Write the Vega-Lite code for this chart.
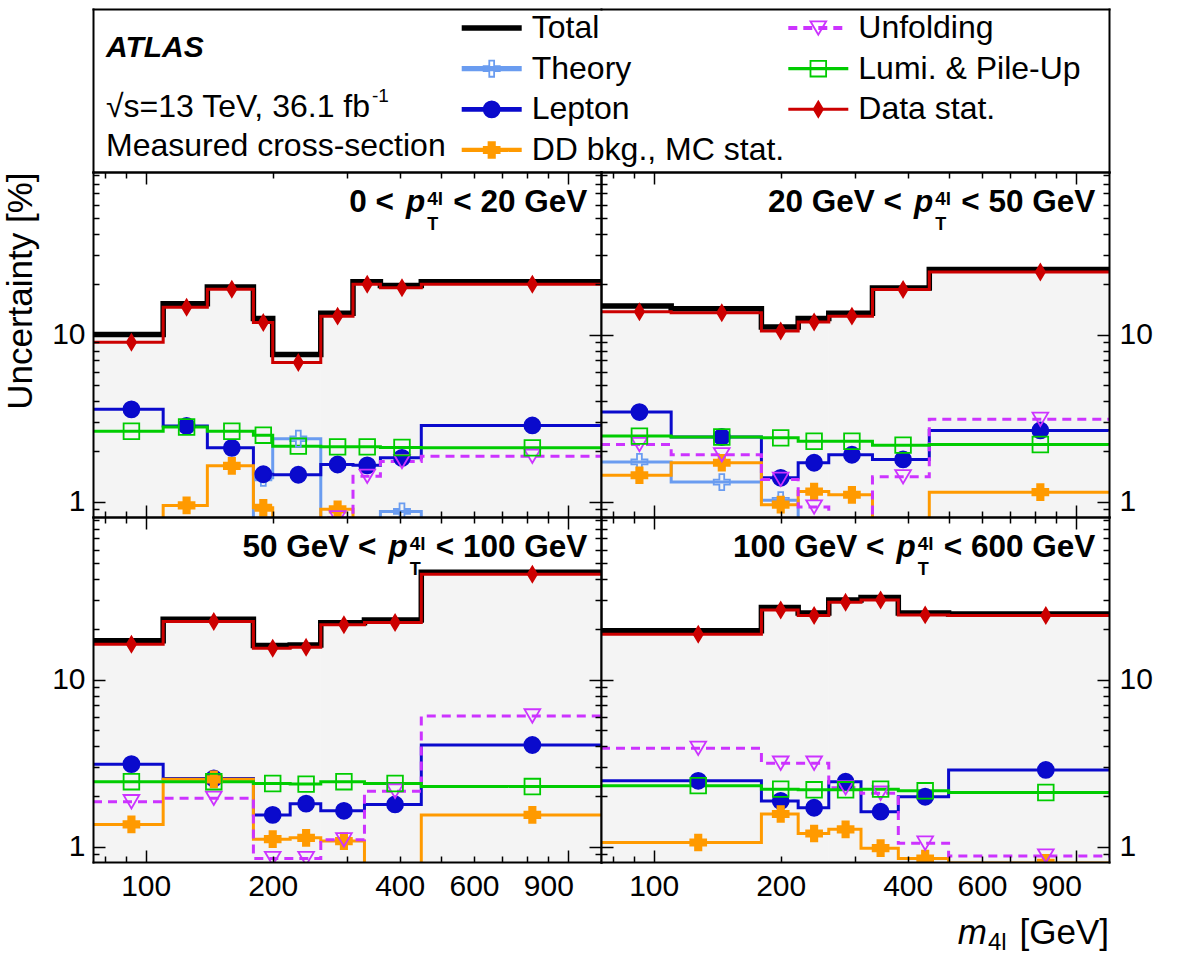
{
  "$schema": "https://vega.github.io/schema/vega-lite/v6.json",
  "background": "white",
  "padding": {"left": 3, "top": 9, "right": 5, "bottom": 5},
  "config": {"font": "Liberation Sans", "view": {"stroke": null}, "text": {"color": "#000"}},
  "datasets": {
    "unc": [
      {"pt": "0-20", "bin": 1, "lo": 75, "hi": 110, "mid": 92.5, "Total": 10.0, "Stat": 9.0, "Lepton": 3.57, "Lumi": 2.64, "Theory": 0.6, "DD": 0.6, "Unfolding": 0.6},
      {"pt": "0-20", "bin": 2, "lo": 110, "hi": 140, "mid": 125, "Total": 15.3, "Stat": 14.6, "Lepton": 2.84, "Lumi": 2.8, "Theory": 0.6, "DD": 0.95, "Unfolding": 0.6},
      {"pt": "0-20", "bin": 3, "lo": 140, "hi": 180, "mid": 160, "Total": 19.3, "Stat": 18.7, "Lepton": 2.1, "Lumi": 2.64, "Theory": 0.6, "DD": 1.64, "Unfolding": 0.6},
      {"pt": "0-20", "bin": 4, "lo": 180, "hi": 200, "mid": 190, "Total": 12.5, "Stat": 11.8, "Lepton": 1.46, "Lumi": 2.5, "Theory": 1.39, "DD": 0.92, "Unfolding": 0.6},
      {"pt": "0-20", "bin": 5, "lo": 200, "hi": 260, "mid": 230, "Total": 7.6, "Stat": 6.8, "Lepton": 1.45, "Lumi": 2.15, "Theory": 2.38, "DD": 0.6, "Unfolding": 0.6},
      {"pt": "0-20", "bin": 6, "lo": 260, "hi": 310, "mid": 285, "Total": 13.4, "Stat": 12.9, "Lepton": 1.67, "Lumi": 2.13, "Theory": 0.6, "DD": 0.9, "Unfolding": 0.8},
      {"pt": "0-20", "bin": 7, "lo": 310, "hi": 360, "mid": 335, "Total": 20.7, "Stat": 20.0, "Lepton": 1.65, "Lumi": 2.13, "Theory": 0.6, "DD": 0.6, "Unfolding": 1.42},
      {"pt": "0-20", "bin": 8, "lo": 360, "hi": 450, "mid": 405, "Total": 19.7, "Stat": 19.1, "Lepton": 1.83, "Lumi": 2.11, "Theory": 0.875, "DD": 0.6, "Unfolding": 1.74},
      {"pt": "0-20", "bin": 9, "lo": 450, "hi": 1200, "mid": 825, "Total": 20.7, "Stat": 20.0, "Lepton": 2.86, "Lumi": 2.1, "Theory": 0.6, "DD": 0.6, "Unfolding": 1.87},
      {"pt": "20-50", "bin": 1, "lo": 75, "hi": 110, "mid": 92.5, "Total": 14.85, "Stat": 13.7, "Lepton": 3.44, "Lumi": 2.47, "Theory": 1.73, "DD": 1.44, "Unfolding": 2.2},
      {"pt": "20-50", "bin": 2, "lo": 110, "hi": 180, "mid": 145, "Total": 14.3, "Stat": 13.5, "Lepton": 2.44, "Lumi": 2.44, "Theory": 1.31, "DD": 1.71, "Unfolding": 1.91},
      {"pt": "20-50", "bin": 3, "lo": 180, "hi": 220, "mid": 200, "Total": 11.1, "Stat": 10.5, "Lepton": 1.39, "Lumi": 2.41, "Theory": 1.02, "DD": 0.96, "Unfolding": 1.36},
      {"pt": "20-50", "bin": 4, "lo": 220, "hi": 260, "mid": 240, "Total": 12.5, "Stat": 11.9, "Lepton": 1.71, "Lumi": 2.3, "Theory": 0.6, "DD": 1.15, "Unfolding": 0.93},
      {"pt": "20-50", "bin": 5, "lo": 260, "hi": 330, "mid": 295, "Total": 13.4, "Stat": 12.9, "Lepton": 1.91, "Lumi": 2.3, "Theory": 0.6, "DD": 1.1, "Unfolding": 0.6},
      {"pt": "20-50", "bin": 6, "lo": 330, "hi": 450, "mid": 390, "Total": 19.0, "Stat": 18.6, "Lepton": 1.79, "Lumi": 2.18, "Theory": 0.6, "DD": 0.6, "Unfolding": 1.41},
      {"pt": "20-50", "bin": 7, "lo": 450, "hi": 1200, "mid": 825, "Total": 24.5, "Stat": 23.7, "Lepton": 2.67, "Lumi": 2.2, "Theory": 0.6, "DD": 1.14, "Unfolding": 3.11},
      {"pt": "50-100", "bin": 1, "lo": 75, "hi": 110, "mid": 92.5, "Total": 17.1, "Stat": 16.3, "Lepton": 3.12, "Lumi": 2.45, "Theory": 0.6, "DD": 1.36, "Unfolding": 1.86},
      {"pt": "50-100", "bin": 2, "lo": 110, "hi": 180, "mid": 145, "Total": 23.0, "Stat": 22.3, "Lepton": 2.56, "Lumi": 2.45, "Theory": 0.6, "DD": 2.53, "Unfolding": 1.95},
      {"pt": "50-100", "bin": 3, "lo": 180, "hi": 220, "mid": 200, "Total": 16.0, "Stat": 15.4, "Lepton": 1.55, "Lumi": 2.39, "Theory": 0.6, "DD": 1.11, "Unfolding": 0.85},
      {"pt": "50-100", "bin": 4, "lo": 220, "hi": 260, "mid": 240, "Total": 16.1, "Stat": 15.6, "Lepton": 1.81, "Lumi": 2.37, "Theory": 0.6, "DD": 1.13, "Unfolding": 0.85},
      {"pt": "50-100", "bin": 5, "lo": 260, "hi": 330, "mid": 295, "Total": 21.9, "Stat": 21.3, "Lepton": 1.64, "Lumi": 2.45, "Theory": 0.6, "DD": 1.08, "Unfolding": 1.1},
      {"pt": "50-100", "bin": 6, "lo": 330, "hi": 450, "mid": 390, "Total": 22.7, "Stat": 22.0, "Lepton": 1.79, "Lumi": 2.39, "Theory": 0.6, "DD": 0.6, "Unfolding": 2.15},
      {"pt": "50-100", "bin": 7, "lo": 450, "hi": 1200, "mid": 825, "Total": 43.9, "Stat": 42.7, "Lepton": 4.06, "Lumi": 2.29, "Theory": 0.6, "DD": 1.55, "Unfolding": 6.06},
      {"pt": "100-600", "bin": 1, "lo": 75, "hi": 180, "mid": 127.5, "Total": 19.6, "Stat": 18.7, "Lepton": 2.48, "Lumi": 2.32, "Theory": 0.6, "DD": 1.06, "Unfolding": 3.88},
      {"pt": "100-600", "bin": 2, "lo": 180, "hi": 220, "mid": 200, "Total": 27.0, "Stat": 26.1, "Lepton": 1.88, "Lumi": 2.21, "Theory": 0.6, "DD": 1.57, "Unfolding": 3.16},
      {"pt": "100-600", "bin": 3, "lo": 220, "hi": 260, "mid": 240, "Total": 25.0, "Stat": 24.2, "Lepton": 1.71, "Lumi": 2.19, "Theory": 0.6, "DD": 1.2, "Unfolding": 3.16},
      {"pt": "100-600", "bin": 4, "lo": 260, "hi": 310, "mid": 285, "Total": 30.0, "Stat": 29.0, "Lepton": 2.45, "Lumi": 2.19, "Theory": 0.6, "DD": 1.27, "Unfolding": 2.25},
      {"pt": "100-600", "bin": 5, "lo": 310, "hi": 380, "mid": 345, "Total": 31.0, "Stat": 30.0, "Lepton": 1.62, "Lumi": 2.21, "Theory": 0.6, "DD": 0.98, "Unfolding": 2.09},
      {"pt": "100-600", "bin": 6, "lo": 380, "hi": 500, "mid": 440, "Total": 25.0, "Stat": 24.4, "Lepton": 1.99, "Lumi": 2.16, "Theory": 0.6, "DD": 0.85, "Unfolding": 1.05},
      {"pt": "100-600", "bin": 7, "lo": 500, "hi": 1200, "mid": 850, "Total": 24.7, "Stat": 24.2, "Lepton": 2.88, "Lumi": 2.11, "Theory": 0.6, "DD": 0.8, "Unfolding": 0.88}
    ],
    "leg": [
      {"series": "Total", "label": "Total", "col": 0, "row": 0},
      {"series": "Theory", "label": "Theory", "col": 0, "row": 1},
      {"series": "Lepton", "label": "Lepton", "col": 0, "row": 2},
      {"series": "DD", "label": "DD bkg., MC stat.", "col": 0, "row": 3},
      {"series": "Unfolding", "label": "Unfolding", "col": 1, "row": 0},
      {"series": "Lumi", "label": "Lumi. & Pile-Up", "col": 1, "row": 1},
      {"series": "Stat", "label": "Data stat.", "col": 1, "row": 2}
    ],
    "heads": [
      {"pt": "0-20", "pre": "0 <", "post": "< 20 GeV"},
      {"pt": "20-50", "pre": "20 GeV <", "post": "< 50 GeV"},
      {"pt": "50-100", "pre": "50 GeV <", "post": "< 100 GeV"},
      {"pt": "100-600", "pre": "100 GeV <", "post": "< 600 GeV"}
    ]
  },
  "columns": 2,
  "bounds": "flush",
  "spacing": 0,
  "concat": [
    {
      "width": 508,
      "height": 163,
      "data": {"name": "leg"},
      "resolve": {"axis": {"x": "independent", "y": "independent"}},
      "layer": [
        {
          "transform": [{"filter": "datum.col == 0"}],
          "mark": {"type": "rule", "x2Offset": 60},
          "encoding": {
            "x": {"field": "col", "type": "quantitative", "scale": {"domain": [-0.7258, 0.2742], "nice": false, "zero": false}, "axis": {"orient": "top", "ticks": false, "labels": false, "grid": false, "title": null, "domainColor": "#000", "domainWidth": 2, "domainCap": "square"}},
            "x2": {"field": "col"},
            "y": {"field": "row", "type": "quantitative", "scale": {"domain": [-0.4672, 3.541], "reverse": true, "nice": false, "zero": false}, "axis": {"orient": "left", "ticks": false, "labels": false, "grid": false, "title": null, "domainColor": "#000", "domainWidth": 2, "domainCap": "square"}},
            "color": {"field": "series", "type": "nominal", "legend": null, "scale": {"domain": ["Total", "Theory", "Lepton", "DD", "Unfolding", "Lumi", "Stat"], "range": ["#000000", "#6a9cf0", "#0a0acc", "#ff9a00", "#cc33ff", "#00cc00", "#cc0000"]}},
            "strokeDash": {"field": "series", "type": "nominal", "legend": null, "scale": {"domain": ["Total", "Theory", "Lepton", "DD", "Unfolding", "Lumi", "Stat"], "range": [[1, 0], [1, 0], [1, 0], [1, 0], [9, 6], [1, 0], [1, 0]]}},
            "strokeWidth": {"field": "series", "type": "nominal", "legend": null, "scale": {"domain": ["Total", "Theory", "Lepton", "DD", "Unfolding", "Lumi", "Stat"], "range": [5.5, 3, 3, 3, 3, 3, 3]}}
          }
        },
        {
          "transform": [{"filter": "datum.col == 0 && datum.series != 'Total'"}],
          "mark": {"type": "point", "xOffset": 30, "strokeWidth": 1.8, "opacity": 1},
          "encoding": {
            "x": {"field": "col", "type": "quantitative", "scale": {"domain": [-0.7258, 0.2742], "nice": false, "zero": false}, "axis": {"orient": "bottom", "ticks": false, "labels": false, "grid": false, "title": null, "domainColor": "#000", "domainWidth": 2, "domainCap": "square"}},
            "y": {"field": "row", "type": "quantitative", "scale": {"domain": [-0.4672, 3.541], "reverse": true, "nice": false, "zero": false}, "axis": null},
            "shape": {"field": "series", "type": "nominal", "legend": null, "scale": {"domain": ["Theory", "Lepton", "DD", "Unfolding", "Lumi", "Stat"], "range": ["M-0.3,-1H0.3V-0.3H1V0.3H0.3V1H-0.3V0.3H-1V-0.3H-0.3Z", "circle", "cross", "M-1,-0.85H1L0,0.85Z", "square", "M0,-1L0.6,0L0,1L-0.6,0Z"]}},
            "size": {"field": "series", "type": "nominal", "legend": null, "scale": {"domain": ["Theory", "Lepton", "DD", "Unfolding", "Lumi", "Stat"], "range": [260, 240, 250, 270, 240, 280]}},
            "stroke": {"field": "series", "type": "nominal", "legend": null, "scale": {"domain": ["Theory", "Lepton", "DD", "Unfolding", "Lumi", "Stat"], "range": ["#6a9cf0", "#0a0acc", "#ff9a00", "#cc33ff", "#00cc00", "#cc0000"]}},
            "fill": {"field": "series", "type": "nominal", "legend": null, "scale": {"domain": ["Theory", "Lepton", "DD", "Unfolding", "Lumi", "Stat"], "range": ["transparent", "#0a0acc", "#ff9a00", "transparent", "transparent", "#cc0000"]}}
          }
        },
        {
          "transform": [{"filter": "datum.col == 0"}],
          "mark": {"type": "text", "align": "left", "baseline": "middle", "dx": 70, "fontSize": 32},
          "encoding": {
            "x": {"field": "col", "type": "quantitative", "scale": {"domain": [-0.7258, 0.2742], "nice": false, "zero": false}, "axis": null},
            "y": {"field": "row", "type": "quantitative", "scale": {"domain": [-0.4672, 3.541], "reverse": true, "nice": false, "zero": false}, "axis": null},
            "text": {"field": "label"}
          }
        },
        {
          "data": {"values": [{"t": "ATLAS"}]},
          "mark": {"type": "text", "align": "left", "baseline": "alphabetic", "fontSize": 30, "fontWeight": "bold", "fontStyle": "italic"},
          "encoding": {"text": {"field": "t"}, "x": {"value": 13}, "y": {"value": 48}}
        },
        {
          "data": {"values": [{"t": "√s=13 TeV, 36.1 fb"}]},
          "mark": {"type": "text", "align": "left", "baseline": "alphabetic", "fontSize": 32},
          "encoding": {"text": {"field": "t"}, "x": {"value": 13}, "y": {"value": 108}}
        },
        {
          "data": {"values": [{"t": "-1"}]},
          "mark": {"type": "text", "align": "left", "baseline": "alphabetic", "fontSize": 19},
          "encoding": {"text": {"field": "t"}, "x": {"value": 279}, "y": {"value": 93}}
        },
        {
          "data": {"values": [{"t": "Measured cross-section"}]},
          "mark": {"type": "text", "align": "left", "baseline": "alphabetic", "fontSize": 32},
          "encoding": {"text": {"field": "t"}, "x": {"value": 13}, "y": {"value": 147}}
        }
      ]
    },
    {
      "width": 508,
      "height": 163,
      "data": {"name": "leg"},
      "resolve": {"axis": {"x": "independent", "y": "independent"}},
      "layer": [
        {
          "transform": [{"filter": "datum.col == 1"}],
          "mark": {"type": "rule", "x2Offset": 60},
          "encoding": {
            "x": {"field": "col", "type": "quantitative", "scale": {"domain": [0.6313, 1.6313], "nice": false, "zero": false}, "axis": {"orient": "top", "ticks": false, "labels": false, "grid": false, "title": null, "domainColor": "#000", "domainWidth": 2, "domainCap": "square"}},
            "x2": {"field": "col"},
            "y": {"field": "row", "type": "quantitative", "scale": {"domain": [-0.4672, 3.541], "reverse": true, "nice": false, "zero": false}, "axis": {"orient": "right", "ticks": false, "labels": false, "grid": false, "title": null, "domainColor": "#000", "domainWidth": 2, "domainCap": "square"}},
            "color": {"field": "series", "type": "nominal", "legend": null, "scale": {"domain": ["Total", "Theory", "Lepton", "DD", "Unfolding", "Lumi", "Stat"], "range": ["#000000", "#6a9cf0", "#0a0acc", "#ff9a00", "#cc33ff", "#00cc00", "#cc0000"]}},
            "strokeDash": {"field": "series", "type": "nominal", "legend": null, "scale": {"domain": ["Total", "Theory", "Lepton", "DD", "Unfolding", "Lumi", "Stat"], "range": [[1, 0], [1, 0], [1, 0], [1, 0], [9, 6], [1, 0], [1, 0]]}},
            "strokeWidth": {"field": "series", "type": "nominal", "legend": null, "scale": {"domain": ["Total", "Theory", "Lepton", "DD", "Unfolding", "Lumi", "Stat"], "range": [5.5, 3, 3, 3, 3, 3, 3]}}
          }
        },
        {
          "transform": [{"filter": "datum.col == 1"}],
          "mark": {"type": "point", "xOffset": 30, "strokeWidth": 1.8, "opacity": 1},
          "encoding": {
            "x": {"field": "col", "type": "quantitative", "scale": {"domain": [0.6313, 1.6313], "nice": false, "zero": false}, "axis": {"orient": "bottom", "ticks": false, "labels": false, "grid": false, "title": null, "domainColor": "#000", "domainWidth": 2, "domainCap": "square"}},
            "y": {"field": "row", "type": "quantitative", "scale": {"domain": [-0.4672, 3.541], "reverse": true, "nice": false, "zero": false}, "axis": null},
            "shape": {"field": "series", "type": "nominal", "legend": null, "scale": {"domain": ["Theory", "Lepton", "DD", "Unfolding", "Lumi", "Stat"], "range": ["M-0.3,-1H0.3V-0.3H1V0.3H0.3V1H-0.3V0.3H-1V-0.3H-0.3Z", "circle", "cross", "M-1,-0.85H1L0,0.85Z", "square", "M0,-1L0.6,0L0,1L-0.6,0Z"]}},
            "size": {"field": "series", "type": "nominal", "legend": null, "scale": {"domain": ["Theory", "Lepton", "DD", "Unfolding", "Lumi", "Stat"], "range": [260, 240, 250, 270, 240, 280]}},
            "stroke": {"field": "series", "type": "nominal", "legend": null, "scale": {"domain": ["Theory", "Lepton", "DD", "Unfolding", "Lumi", "Stat"], "range": ["#6a9cf0", "#0a0acc", "#ff9a00", "#cc33ff", "#00cc00", "#cc0000"]}},
            "fill": {"field": "series", "type": "nominal", "legend": null, "scale": {"domain": ["Theory", "Lepton", "DD", "Unfolding", "Lumi", "Stat"], "range": ["transparent", "#0a0acc", "#ff9a00", "transparent", "transparent", "#cc0000"]}}
          }
        },
        {
          "transform": [{"filter": "datum.col == 1"}],
          "mark": {"type": "text", "align": "left", "baseline": "middle", "dx": 70, "fontSize": 32},
          "encoding": {
            "x": {"field": "col", "type": "quantitative", "scale": {"domain": [0.6313, 1.6313], "nice": false, "zero": false}, "axis": null},
            "y": {"field": "row", "type": "quantitative", "scale": {"domain": [-0.4672, 3.541], "reverse": true, "nice": false, "zero": false}, "axis": null},
            "text": {"field": "label"}
          }
        }
      ]
    },
    {
      "width": 508,
      "height": 345,
      "data": {"name": "unc"},
      "resolve": {"axis": {"x": "independent", "y": "independent"}},
      "layer": [
        {
          "transform": [{"filter": "datum.pt == '0-20'"}, {"fold": ["Total"], "as": ["series", "v"]}],
          "mark": {"type": "bar", "color": "#f4f4f4", "stroke": "#f4f4f4", "strokeWidth": 1, "clip": true},
          "encoding": {
            "x": {"field": "lo", "type": "quantitative", "scale": {"type": "log", "domain": [75, 1200], "nice": false}, "axis": null},
            "x2": {"field": "hi"},
            "y": {"field": "v", "type": "quantitative", "scale": {"type": "log", "domain": [0.81, 94], "nice": false}, "axis": {"orient": "left", "values": [1, 10], "format": "d", "ticks": false, "domain": false, "grid": false, "labelFontSize": 30, "labelPadding": 8, "labelColor": "#000", "labelFlush": false, "labelOverlap": false, "title": "Uncertainty [%]", "titleFontSize": 35, "titleFontWeight": "normal", "titleColor": "#000", "titleAnchor": "end", "titlePadding": 13}},
            "y2": {"value": "height"}
          }
        },
        {
          "transform": [{"filter": "datum.pt == '0-20'"}, {"fold": ["Total"], "as": ["series", "v"]}, {"fold": ["lo", "hi"], "as": ["edge", "m"]}],
          "mark": {"type": "line", "color": "#000", "strokeWidth": 5.5, "strokeJoin": "miter", "clip": true},
          "encoding": {
            "x": {"field": "m", "type": "quantitative", "scale": {"type": "log", "domain": [75, 1200], "nice": false}, "axis": {"orient": "bottom", "values": [80, 90, 100, 200, 300, 400, 500, 600, 700, 800, 900, 1000], "labels": false, "grid": false, "title": null, "domainColor": "#000", "domainWidth": 2, "domainCap": "square", "tickColor": "#000", "tickWidth": 1.5, "tickSize": {"condition": {"test": "datum.value == 100 || datum.value == 1000", "value": -12}, "value": -6}, "zindex": 2}},
            "y": {"field": "v", "type": "quantitative", "scale": {"type": "log", "domain": [0.81, 94], "nice": false}, "axis": {"orient": "left", "values": [0.9, 1, 2, 3, 4, 5, 6, 7, 8, 9, 10, 20, 30, 40, 50, 60, 70, 80, 90], "labels": false, "grid": false, "title": null, "domainColor": "#000", "domainWidth": 2, "domainCap": "square", "tickColor": "#000", "tickWidth": 1.5, "tickSize": {"condition": {"test": "datum.value == 1 || datum.value == 10", "value": -12}, "value": -6}, "zindex": 2}},
            "order": [{"field": "m", "type": "quantitative"}, {"field": "bin", "type": "quantitative"}]
          }
        },
        {
          "transform": [{"filter": "datum.pt == '0-20'"}, {"fold": ["Theory", "Lepton", "DD", "Unfolding", "Lumi", "Stat"], "as": ["series", "v"]}, {"fold": ["lo", "hi"], "as": ["edge", "m"]}],
          "mark": {"type": "line", "strokeWidth": 3, "strokeJoin": "miter", "clip": true},
          "encoding": {
            "x": {"field": "m", "type": "quantitative", "scale": {"type": "log", "domain": [75, 1200], "nice": false}, "axis": {"orient": "top", "values": [80, 90, 100, 200, 300, 400, 500, 600, 700, 800, 900, 1000], "labels": false, "grid": false, "title": null, "domainColor": "#000", "domainWidth": 2, "domainCap": "square", "tickColor": "#000", "tickWidth": 1.5, "tickSize": {"condition": {"test": "datum.value == 100 || datum.value == 1000", "value": -12}, "value": -6}, "zindex": 2}},
            "y": {"field": "v", "type": "quantitative", "scale": {"type": "log", "domain": [0.81, 94], "nice": false}, "axis": {"orient": "right", "values": [0.9, 1, 2, 3, 4, 5, 6, 7, 8, 9, 10, 20, 30, 40, 50, 60, 70, 80, 90], "labels": false, "grid": false, "title": null, "domainColor": "#000", "domainWidth": 2, "domainCap": "square", "tickColor": "#000", "tickWidth": 1.5, "tickSize": {"condition": {"test": "datum.value == 1 || datum.value == 10", "value": -12}, "value": -6}, "zindex": 2}},
            "color": {"field": "series", "type": "nominal", "legend": null, "scale": {"domain": ["Total", "Theory", "Lepton", "DD", "Unfolding", "Lumi", "Stat"], "range": ["#000000", "#6a9cf0", "#0a0acc", "#ff9a00", "#cc33ff", "#00cc00", "#cc0000"]}},
            "strokeDash": {"field": "series", "type": "nominal", "legend": null, "scale": {"domain": ["Total", "Theory", "Lepton", "DD", "Unfolding", "Lumi", "Stat"], "range": [[1, 0], [1, 0], [1, 0], [1, 0], [9, 6], [1, 0], [1, 0]]}},
            "order": [{"field": "m", "type": "quantitative"}, {"field": "bin", "type": "quantitative"}]
          }
        },
        {
          "transform": [{"filter": "datum.pt == '0-20'"}, {"fold": ["Theory", "Lepton", "DD", "Unfolding", "Lumi", "Stat"], "as": ["series", "v"]}],
          "mark": {"type": "point", "strokeWidth": 1.8, "opacity": 1, "clip": true},
          "encoding": {
            "x": {"field": "mid", "type": "quantitative", "scale": {"type": "log", "domain": [75, 1200], "nice": false}, "axis": null},
            "y": {"field": "v", "type": "quantitative", "scale": {"type": "log", "domain": [0.81, 94], "nice": false}, "axis": null},
            "shape": {"field": "series", "type": "nominal", "legend": null, "scale": {"domain": ["Theory", "Lepton", "DD", "Unfolding", "Lumi", "Stat"], "range": ["M-0.3,-1H0.3V-0.3H1V0.3H0.3V1H-0.3V0.3H-1V-0.3H-0.3Z", "circle", "cross", "M-1,-0.85H1L0,0.85Z", "square", "M0,-1L0.6,0L0,1L-0.6,0Z"]}},
            "size": {"field": "series", "type": "nominal", "legend": null, "scale": {"domain": ["Theory", "Lepton", "DD", "Unfolding", "Lumi", "Stat"], "range": [260, 240, 250, 270, 240, 280]}},
            "stroke": {"field": "series", "type": "nominal", "legend": null, "scale": {"domain": ["Theory", "Lepton", "DD", "Unfolding", "Lumi", "Stat"], "range": ["#6a9cf0", "#0a0acc", "#ff9a00", "#cc33ff", "#00cc00", "#cc0000"]}},
            "fill": {"field": "series", "type": "nominal", "legend": null, "scale": {"domain": ["Theory", "Lepton", "DD", "Unfolding", "Lumi", "Stat"], "range": ["transparent", "#0a0acc", "#ff9a00", "transparent", "transparent", "#cc0000"]}}
          }
        },
        {
          "data": {"name": "heads"},
          "transform": [{"filter": "datum.pt == '0-20'"}],
          "mark": {"type": "text", "align": "right", "baseline": "alphabetic", "fontSize": 31.5, "fontWeight": "bold"},
          "encoding": {"text": {"field": "post"}, "x": {"value": 494.3}, "y": {"value": 40}}
        },
        {
          "data": {"name": "heads"},
          "transform": [{"filter": "datum.pt == '0-20'"}],
          "mark": {"type": "text", "align": "right", "baseline": "alphabetic", "fontSize": 31.5, "fontWeight": "bold"},
          "encoding": {"text": {"field": "pre"}, "x": {"value": 301}, "y": {"value": 40}}
        },
        {
          "data": {"name": "heads"},
          "transform": [{"filter": "datum.pt == '0-20'"}],
          "mark": {"type": "text", "text": "p", "align": "right", "baseline": "alphabetic", "fontSize": 31.5, "fontWeight": "bold", "fontStyle": "italic"},
          "encoding": {"x": {"value": 332.3}, "y": {"value": 40}}
        },
        {
          "data": {"name": "heads"},
          "transform": [{"filter": "datum.pt == '0-20'"}],
          "mark": {"type": "text", "text": "4l", "align": "left", "baseline": "alphabetic", "fontSize": 19, "fontWeight": "bold"},
          "encoding": {"x": {"value": 334.3}, "y": {"value": 33}}
        },
        {
          "data": {"name": "heads"},
          "transform": [{"filter": "datum.pt == '0-20'"}],
          "mark": {"type": "text", "text": "T", "align": "left", "baseline": "alphabetic", "fontSize": 18, "fontWeight": "bold"},
          "encoding": {"x": {"value": 334.3}, "y": {"value": 58}}
        }
      ]
    },
    {
      "width": 508,
      "height": 345,
      "data": {"name": "unc"},
      "resolve": {"axis": {"x": "independent", "y": "independent"}},
      "layer": [
        {
          "transform": [{"filter": "datum.pt == '20-50'"}, {"fold": ["Total"], "as": ["series", "v"]}],
          "mark": {"type": "bar", "color": "#f4f4f4", "stroke": "#f4f4f4", "strokeWidth": 1, "clip": true},
          "encoding": {
            "x": {"field": "lo", "type": "quantitative", "scale": {"type": "log", "domain": [75, 1200], "nice": false}, "axis": null},
            "x2": {"field": "hi"},
            "y": {"field": "v", "type": "quantitative", "scale": {"type": "log", "domain": [0.81, 94], "nice": false}, "axis": {"orient": "right", "values": [1, 10], "format": "d", "ticks": false, "domain": false, "grid": false, "labelFontSize": 30, "labelPadding": 10, "labelColor": "#000", "labelFlush": false, "labelOverlap": false, "title": null}},
            "y2": {"value": "height"}
          }
        },
        {
          "transform": [{"filter": "datum.pt == '20-50'"}, {"fold": ["Total"], "as": ["series", "v"]}, {"fold": ["lo", "hi"], "as": ["edge", "m"]}],
          "mark": {"type": "line", "color": "#000", "strokeWidth": 5.5, "strokeJoin": "miter", "clip": true},
          "encoding": {
            "x": {"field": "m", "type": "quantitative", "scale": {"type": "log", "domain": [75, 1200], "nice": false}, "axis": {"orient": "bottom", "values": [80, 90, 100, 200, 300, 400, 500, 600, 700, 800, 900, 1000], "labels": false, "grid": false, "title": null, "domainColor": "#000", "domainWidth": 2, "domainCap": "square", "tickColor": "#000", "tickWidth": 1.5, "tickSize": {"condition": {"test": "datum.value == 100 || datum.value == 1000", "value": -12}, "value": -6}, "zindex": 2}},
            "y": {"field": "v", "type": "quantitative", "scale": {"type": "log", "domain": [0.81, 94], "nice": false}, "axis": {"orient": "left", "values": [0.9, 1, 2, 3, 4, 5, 6, 7, 8, 9, 10, 20, 30, 40, 50, 60, 70, 80, 90], "labels": false, "grid": false, "title": null, "domainColor": "#000", "domainWidth": 2, "domainCap": "square", "tickColor": "#000", "tickWidth": 1.5, "tickSize": {"condition": {"test": "datum.value == 1 || datum.value == 10", "value": -12}, "value": -6}, "zindex": 2}},
            "order": [{"field": "m", "type": "quantitative"}, {"field": "bin", "type": "quantitative"}]
          }
        },
        {
          "transform": [{"filter": "datum.pt == '20-50'"}, {"fold": ["Theory", "Lepton", "DD", "Unfolding", "Lumi", "Stat"], "as": ["series", "v"]}, {"fold": ["lo", "hi"], "as": ["edge", "m"]}],
          "mark": {"type": "line", "strokeWidth": 3, "strokeJoin": "miter", "clip": true},
          "encoding": {
            "x": {"field": "m", "type": "quantitative", "scale": {"type": "log", "domain": [75, 1200], "nice": false}, "axis": {"orient": "top", "values": [80, 90, 100, 200, 300, 400, 500, 600, 700, 800, 900, 1000], "labels": false, "grid": false, "title": null, "domainColor": "#000", "domainWidth": 2, "domainCap": "square", "tickColor": "#000", "tickWidth": 1.5, "tickSize": {"condition": {"test": "datum.value == 100 || datum.value == 1000", "value": -12}, "value": -6}, "zindex": 2}},
            "y": {"field": "v", "type": "quantitative", "scale": {"type": "log", "domain": [0.81, 94], "nice": false}, "axis": {"orient": "right", "values": [0.9, 1, 2, 3, 4, 5, 6, 7, 8, 9, 10, 20, 30, 40, 50, 60, 70, 80, 90], "labels": false, "grid": false, "title": null, "domainColor": "#000", "domainWidth": 2, "domainCap": "square", "tickColor": "#000", "tickWidth": 1.5, "tickSize": {"condition": {"test": "datum.value == 1 || datum.value == 10", "value": -12}, "value": -6}, "zindex": 2}},
            "color": {"field": "series", "type": "nominal", "legend": null, "scale": {"domain": ["Total", "Theory", "Lepton", "DD", "Unfolding", "Lumi", "Stat"], "range": ["#000000", "#6a9cf0", "#0a0acc", "#ff9a00", "#cc33ff", "#00cc00", "#cc0000"]}},
            "strokeDash": {"field": "series", "type": "nominal", "legend": null, "scale": {"domain": ["Total", "Theory", "Lepton", "DD", "Unfolding", "Lumi", "Stat"], "range": [[1, 0], [1, 0], [1, 0], [1, 0], [9, 6], [1, 0], [1, 0]]}},
            "order": [{"field": "m", "type": "quantitative"}, {"field": "bin", "type": "quantitative"}]
          }
        },
        {
          "transform": [{"filter": "datum.pt == '20-50'"}, {"fold": ["Theory", "Lepton", "DD", "Unfolding", "Lumi", "Stat"], "as": ["series", "v"]}],
          "mark": {"type": "point", "strokeWidth": 1.8, "opacity": 1, "clip": true},
          "encoding": {
            "x": {"field": "mid", "type": "quantitative", "scale": {"type": "log", "domain": [75, 1200], "nice": false}, "axis": null},
            "y": {"field": "v", "type": "quantitative", "scale": {"type": "log", "domain": [0.81, 94], "nice": false}, "axis": null},
            "shape": {"field": "series", "type": "nominal", "legend": null, "scale": {"domain": ["Theory", "Lepton", "DD", "Unfolding", "Lumi", "Stat"], "range": ["M-0.3,-1H0.3V-0.3H1V0.3H0.3V1H-0.3V0.3H-1V-0.3H-0.3Z", "circle", "cross", "M-1,-0.85H1L0,0.85Z", "square", "M0,-1L0.6,0L0,1L-0.6,0Z"]}},
            "size": {"field": "series", "type": "nominal", "legend": null, "scale": {"domain": ["Theory", "Lepton", "DD", "Unfolding", "Lumi", "Stat"], "range": [260, 240, 250, 270, 240, 280]}},
            "stroke": {"field": "series", "type": "nominal", "legend": null, "scale": {"domain": ["Theory", "Lepton", "DD", "Unfolding", "Lumi", "Stat"], "range": ["#6a9cf0", "#0a0acc", "#ff9a00", "#cc33ff", "#00cc00", "#cc0000"]}},
            "fill": {"field": "series", "type": "nominal", "legend": null, "scale": {"domain": ["Theory", "Lepton", "DD", "Unfolding", "Lumi", "Stat"], "range": ["transparent", "#0a0acc", "#ff9a00", "transparent", "transparent", "#cc0000"]}}
          }
        },
        {
          "data": {"name": "heads"},
          "transform": [{"filter": "datum.pt == '20-50'"}],
          "mark": {"type": "text", "align": "right", "baseline": "alphabetic", "fontSize": 31.5, "fontWeight": "bold"},
          "encoding": {"text": {"field": "post"}, "x": {"value": 494.3}, "y": {"value": 40}}
        },
        {
          "data": {"name": "heads"},
          "transform": [{"filter": "datum.pt == '20-50'"}],
          "mark": {"type": "text", "align": "right", "baseline": "alphabetic", "fontSize": 31.5, "fontWeight": "bold"},
          "encoding": {"text": {"field": "pre"}, "x": {"value": 301}, "y": {"value": 40}}
        },
        {
          "data": {"name": "heads"},
          "transform": [{"filter": "datum.pt == '20-50'"}],
          "mark": {"type": "text", "text": "p", "align": "right", "baseline": "alphabetic", "fontSize": 31.5, "fontWeight": "bold", "fontStyle": "italic"},
          "encoding": {"x": {"value": 332.3}, "y": {"value": 40}}
        },
        {
          "data": {"name": "heads"},
          "transform": [{"filter": "datum.pt == '20-50'"}],
          "mark": {"type": "text", "text": "4l", "align": "left", "baseline": "alphabetic", "fontSize": 19, "fontWeight": "bold"},
          "encoding": {"x": {"value": 334.3}, "y": {"value": 33}}
        },
        {
          "data": {"name": "heads"},
          "transform": [{"filter": "datum.pt == '20-50'"}],
          "mark": {"type": "text", "text": "T", "align": "left", "baseline": "alphabetic", "fontSize": 18, "fontWeight": "bold"},
          "encoding": {"x": {"value": 334.3}, "y": {"value": 58}}
        }
      ]
    },
    {
      "width": 508,
      "height": 345,
      "data": {"name": "unc"},
      "resolve": {"axis": {"x": "independent", "y": "independent"}},
      "layer": [
        {
          "transform": [{"filter": "datum.pt == '50-100'"}, {"fold": ["Total"], "as": ["series", "v"]}],
          "mark": {"type": "bar", "color": "#f4f4f4", "stroke": "#f4f4f4", "strokeWidth": 1, "clip": true},
          "encoding": {
            "x": {"field": "lo", "type": "quantitative", "scale": {"type": "log", "domain": [75, 1200], "nice": false}, "axis": {"orient": "bottom", "values": [100, 200, 400, 600, 900], "format": "d", "ticks": false, "domain": false, "grid": false, "labelFontSize": 30, "labelPadding": 9, "labelColor": "#000", "labelFlush": false, "labelOverlap": false, "title": null}},
            "x2": {"field": "hi"},
            "y": {"field": "v", "type": "quantitative", "scale": {"type": "log", "domain": [0.81, 94], "nice": false}, "axis": {"orient": "left", "values": [1, 10], "format": "d", "ticks": false, "domain": false, "grid": false, "labelFontSize": 30, "labelPadding": 8, "labelColor": "#000", "labelFlush": false, "labelOverlap": false, "title": null}},
            "y2": {"value": "height"}
          }
        },
        {
          "transform": [{"filter": "datum.pt == '50-100'"}, {"fold": ["Total"], "as": ["series", "v"]}, {"fold": ["lo", "hi"], "as": ["edge", "m"]}],
          "mark": {"type": "line", "color": "#000", "strokeWidth": 5.5, "strokeJoin": "miter", "clip": true},
          "encoding": {
            "x": {"field": "m", "type": "quantitative", "scale": {"type": "log", "domain": [75, 1200], "nice": false}, "axis": {"orient": "bottom", "values": [80, 90, 100, 200, 300, 400, 500, 600, 700, 800, 900, 1000], "labels": false, "grid": false, "title": null, "domainColor": "#000", "domainWidth": 2, "domainCap": "square", "tickColor": "#000", "tickWidth": 1.5, "tickSize": {"condition": {"test": "datum.value == 100 || datum.value == 1000", "value": -12}, "value": -6}, "zindex": 2}},
            "y": {"field": "v", "type": "quantitative", "scale": {"type": "log", "domain": [0.81, 94], "nice": false}, "axis": {"orient": "left", "values": [0.9, 1, 2, 3, 4, 5, 6, 7, 8, 9, 10, 20, 30, 40, 50, 60, 70, 80, 90], "labels": false, "grid": false, "title": null, "domainColor": "#000", "domainWidth": 2, "domainCap": "square", "tickColor": "#000", "tickWidth": 1.5, "tickSize": {"condition": {"test": "datum.value == 1 || datum.value == 10", "value": -12}, "value": -6}, "zindex": 2}},
            "order": [{"field": "m", "type": "quantitative"}, {"field": "bin", "type": "quantitative"}]
          }
        },
        {
          "transform": [{"filter": "datum.pt == '50-100'"}, {"fold": ["Theory", "Lepton", "DD", "Unfolding", "Lumi", "Stat"], "as": ["series", "v"]}, {"fold": ["lo", "hi"], "as": ["edge", "m"]}],
          "mark": {"type": "line", "strokeWidth": 3, "strokeJoin": "miter", "clip": true},
          "encoding": {
            "x": {"field": "m", "type": "quantitative", "scale": {"type": "log", "domain": [75, 1200], "nice": false}, "axis": {"orient": "top", "values": [80, 90, 100, 200, 300, 400, 500, 600, 700, 800, 900, 1000], "labels": false, "grid": false, "title": null, "domainColor": "#000", "domainWidth": 2, "domainCap": "square", "tickColor": "#000", "tickWidth": 1.5, "tickSize": {"condition": {"test": "datum.value == 100 || datum.value == 1000", "value": -12}, "value": -6}, "zindex": 2}},
            "y": {"field": "v", "type": "quantitative", "scale": {"type": "log", "domain": [0.81, 94], "nice": false}, "axis": {"orient": "right", "values": [0.9, 1, 2, 3, 4, 5, 6, 7, 8, 9, 10, 20, 30, 40, 50, 60, 70, 80, 90], "labels": false, "grid": false, "title": null, "domainColor": "#000", "domainWidth": 2, "domainCap": "square", "tickColor": "#000", "tickWidth": 1.5, "tickSize": {"condition": {"test": "datum.value == 1 || datum.value == 10", "value": -12}, "value": -6}, "zindex": 2}},
            "color": {"field": "series", "type": "nominal", "legend": null, "scale": {"domain": ["Total", "Theory", "Lepton", "DD", "Unfolding", "Lumi", "Stat"], "range": ["#000000", "#6a9cf0", "#0a0acc", "#ff9a00", "#cc33ff", "#00cc00", "#cc0000"]}},
            "strokeDash": {"field": "series", "type": "nominal", "legend": null, "scale": {"domain": ["Total", "Theory", "Lepton", "DD", "Unfolding", "Lumi", "Stat"], "range": [[1, 0], [1, 0], [1, 0], [1, 0], [9, 6], [1, 0], [1, 0]]}},
            "order": [{"field": "m", "type": "quantitative"}, {"field": "bin", "type": "quantitative"}]
          }
        },
        {
          "transform": [{"filter": "datum.pt == '50-100'"}, {"fold": ["Theory", "Lepton", "DD", "Unfolding", "Lumi", "Stat"], "as": ["series", "v"]}],
          "mark": {"type": "point", "strokeWidth": 1.8, "opacity": 1, "clip": true},
          "encoding": {
            "x": {"field": "mid", "type": "quantitative", "scale": {"type": "log", "domain": [75, 1200], "nice": false}, "axis": null},
            "y": {"field": "v", "type": "quantitative", "scale": {"type": "log", "domain": [0.81, 94], "nice": false}, "axis": null},
            "shape": {"field": "series", "type": "nominal", "legend": null, "scale": {"domain": ["Theory", "Lepton", "DD", "Unfolding", "Lumi", "Stat"], "range": ["M-0.3,-1H0.3V-0.3H1V0.3H0.3V1H-0.3V0.3H-1V-0.3H-0.3Z", "circle", "cross", "M-1,-0.85H1L0,0.85Z", "square", "M0,-1L0.6,0L0,1L-0.6,0Z"]}},
            "size": {"field": "series", "type": "nominal", "legend": null, "scale": {"domain": ["Theory", "Lepton", "DD", "Unfolding", "Lumi", "Stat"], "range": [260, 240, 250, 270, 240, 280]}},
            "stroke": {"field": "series", "type": "nominal", "legend": null, "scale": {"domain": ["Theory", "Lepton", "DD", "Unfolding", "Lumi", "Stat"], "range": ["#6a9cf0", "#0a0acc", "#ff9a00", "#cc33ff", "#00cc00", "#cc0000"]}},
            "fill": {"field": "series", "type": "nominal", "legend": null, "scale": {"domain": ["Theory", "Lepton", "DD", "Unfolding", "Lumi", "Stat"], "range": ["transparent", "#0a0acc", "#ff9a00", "transparent", "transparent", "#cc0000"]}}
          }
        },
        {
          "data": {"name": "heads"},
          "transform": [{"filter": "datum.pt == '50-100'"}],
          "mark": {"type": "text", "align": "right", "baseline": "alphabetic", "fontSize": 31.5, "fontWeight": "bold"},
          "encoding": {"text": {"field": "post"}, "x": {"value": 494.3}, "y": {"value": 40}}
        },
        {
          "data": {"name": "heads"},
          "transform": [{"filter": "datum.pt == '50-100'"}],
          "mark": {"type": "text", "align": "right", "baseline": "alphabetic", "fontSize": 31.5, "fontWeight": "bold"},
          "encoding": {"text": {"field": "pre"}, "x": {"value": 283.5}, "y": {"value": 40}}
        },
        {
          "data": {"name": "heads"},
          "transform": [{"filter": "datum.pt == '50-100'"}],
          "mark": {"type": "text", "text": "p", "align": "right", "baseline": "alphabetic", "fontSize": 31.5, "fontWeight": "bold", "fontStyle": "italic"},
          "encoding": {"x": {"value": 314.8}, "y": {"value": 40}}
        },
        {
          "data": {"name": "heads"},
          "transform": [{"filter": "datum.pt == '50-100'"}],
          "mark": {"type": "text", "text": "4l", "align": "left", "baseline": "alphabetic", "fontSize": 19, "fontWeight": "bold"},
          "encoding": {"x": {"value": 316.8}, "y": {"value": 33}}
        },
        {
          "data": {"name": "heads"},
          "transform": [{"filter": "datum.pt == '50-100'"}],
          "mark": {"type": "text", "text": "T", "align": "left", "baseline": "alphabetic", "fontSize": 18, "fontWeight": "bold"},
          "encoding": {"x": {"value": 316.8}, "y": {"value": 58}}
        }
      ]
    },
    {
      "width": 508,
      "height": 345,
      "data": {"name": "unc"},
      "resolve": {"axis": {"x": "independent", "y": "independent"}},
      "layer": [
        {
          "transform": [{"filter": "datum.pt == '100-600'"}, {"fold": ["Total"], "as": ["series", "v"]}],
          "mark": {"type": "bar", "color": "#f4f4f4", "stroke": "#f4f4f4", "strokeWidth": 1, "clip": true},
          "encoding": {
            "x": {"field": "lo", "type": "quantitative", "scale": {"type": "log", "domain": [75, 1200], "nice": false}, "axis": {"orient": "bottom", "values": [100, 200, 400, 600, 900], "format": "d", "ticks": false, "domain": false, "grid": false, "labelFontSize": 30, "labelPadding": 9, "labelColor": "#000", "labelFlush": false, "labelOverlap": false, "title": null}},
            "x2": {"field": "hi"},
            "y": {"field": "v", "type": "quantitative", "scale": {"type": "log", "domain": [0.81, 94], "nice": false}, "axis": {"orient": "right", "values": [1, 10], "format": "d", "ticks": false, "domain": false, "grid": false, "labelFontSize": 30, "labelPadding": 10, "labelColor": "#000", "labelFlush": false, "labelOverlap": false, "title": null}},
            "y2": {"value": "height"}
          }
        },
        {
          "transform": [{"filter": "datum.pt == '100-600'"}, {"fold": ["Total"], "as": ["series", "v"]}, {"fold": ["lo", "hi"], "as": ["edge", "m"]}],
          "mark": {"type": "line", "color": "#000", "strokeWidth": 5.5, "strokeJoin": "miter", "clip": true},
          "encoding": {
            "x": {"field": "m", "type": "quantitative", "scale": {"type": "log", "domain": [75, 1200], "nice": false}, "axis": {"orient": "bottom", "values": [80, 90, 100, 200, 300, 400, 500, 600, 700, 800, 900, 1000], "labels": false, "grid": false, "title": null, "domainColor": "#000", "domainWidth": 2, "domainCap": "square", "tickColor": "#000", "tickWidth": 1.5, "tickSize": {"condition": {"test": "datum.value == 100 || datum.value == 1000", "value": -12}, "value": -6}, "zindex": 2}},
            "y": {"field": "v", "type": "quantitative", "scale": {"type": "log", "domain": [0.81, 94], "nice": false}, "axis": {"orient": "left", "values": [0.9, 1, 2, 3, 4, 5, 6, 7, 8, 9, 10, 20, 30, 40, 50, 60, 70, 80, 90], "labels": false, "grid": false, "title": null, "domainColor": "#000", "domainWidth": 2, "domainCap": "square", "tickColor": "#000", "tickWidth": 1.5, "tickSize": {"condition": {"test": "datum.value == 1 || datum.value == 10", "value": -12}, "value": -6}, "zindex": 2}},
            "order": [{"field": "m", "type": "quantitative"}, {"field": "bin", "type": "quantitative"}]
          }
        },
        {
          "transform": [{"filter": "datum.pt == '100-600'"}, {"fold": ["Theory", "Lepton", "DD", "Unfolding", "Lumi", "Stat"], "as": ["series", "v"]}, {"fold": ["lo", "hi"], "as": ["edge", "m"]}],
          "mark": {"type": "line", "strokeWidth": 3, "strokeJoin": "miter", "clip": true},
          "encoding": {
            "x": {"field": "m", "type": "quantitative", "scale": {"type": "log", "domain": [75, 1200], "nice": false}, "axis": {"orient": "top", "values": [80, 90, 100, 200, 300, 400, 500, 600, 700, 800, 900, 1000], "labels": false, "grid": false, "title": null, "domainColor": "#000", "domainWidth": 2, "domainCap": "square", "tickColor": "#000", "tickWidth": 1.5, "tickSize": {"condition": {"test": "datum.value == 100 || datum.value == 1000", "value": -12}, "value": -6}, "zindex": 2}},
            "y": {"field": "v", "type": "quantitative", "scale": {"type": "log", "domain": [0.81, 94], "nice": false}, "axis": {"orient": "right", "values": [0.9, 1, 2, 3, 4, 5, 6, 7, 8, 9, 10, 20, 30, 40, 50, 60, 70, 80, 90], "labels": false, "grid": false, "title": null, "domainColor": "#000", "domainWidth": 2, "domainCap": "square", "tickColor": "#000", "tickWidth": 1.5, "tickSize": {"condition": {"test": "datum.value == 1 || datum.value == 10", "value": -12}, "value": -6}, "zindex": 2}},
            "color": {"field": "series", "type": "nominal", "legend": null, "scale": {"domain": ["Total", "Theory", "Lepton", "DD", "Unfolding", "Lumi", "Stat"], "range": ["#000000", "#6a9cf0", "#0a0acc", "#ff9a00", "#cc33ff", "#00cc00", "#cc0000"]}},
            "strokeDash": {"field": "series", "type": "nominal", "legend": null, "scale": {"domain": ["Total", "Theory", "Lepton", "DD", "Unfolding", "Lumi", "Stat"], "range": [[1, 0], [1, 0], [1, 0], [1, 0], [9, 6], [1, 0], [1, 0]]}},
            "order": [{"field": "m", "type": "quantitative"}, {"field": "bin", "type": "quantitative"}]
          }
        },
        {
          "transform": [{"filter": "datum.pt == '100-600'"}, {"fold": ["Theory", "Lepton", "DD", "Unfolding", "Lumi", "Stat"], "as": ["series", "v"]}],
          "mark": {"type": "point", "strokeWidth": 1.8, "opacity": 1, "clip": true},
          "encoding": {
            "x": {"field": "mid", "type": "quantitative", "scale": {"type": "log", "domain": [75, 1200], "nice": false}, "axis": null},
            "y": {"field": "v", "type": "quantitative", "scale": {"type": "log", "domain": [0.81, 94], "nice": false}, "axis": null},
            "shape": {"field": "series", "type": "nominal", "legend": null, "scale": {"domain": ["Theory", "Lepton", "DD", "Unfolding", "Lumi", "Stat"], "range": ["M-0.3,-1H0.3V-0.3H1V0.3H0.3V1H-0.3V0.3H-1V-0.3H-0.3Z", "circle", "cross", "M-1,-0.85H1L0,0.85Z", "square", "M0,-1L0.6,0L0,1L-0.6,0Z"]}},
            "size": {"field": "series", "type": "nominal", "legend": null, "scale": {"domain": ["Theory", "Lepton", "DD", "Unfolding", "Lumi", "Stat"], "range": [260, 240, 250, 270, 240, 280]}},
            "stroke": {"field": "series", "type": "nominal", "legend": null, "scale": {"domain": ["Theory", "Lepton", "DD", "Unfolding", "Lumi", "Stat"], "range": ["#6a9cf0", "#0a0acc", "#ff9a00", "#cc33ff", "#00cc00", "#cc0000"]}},
            "fill": {"field": "series", "type": "nominal", "legend": null, "scale": {"domain": ["Theory", "Lepton", "DD", "Unfolding", "Lumi", "Stat"], "range": ["transparent", "#0a0acc", "#ff9a00", "transparent", "transparent", "#cc0000"]}}
          }
        },
        {
          "data": {"name": "heads"},
          "transform": [{"filter": "datum.pt == '100-600'"}],
          "mark": {"type": "text", "align": "right", "baseline": "alphabetic", "fontSize": 31.5, "fontWeight": "bold"},
          "encoding": {"text": {"field": "post"}, "x": {"value": 494.3}, "y": {"value": 40}}
        },
        {
          "data": {"name": "heads"},
          "transform": [{"filter": "datum.pt == '100-600'"}],
          "mark": {"type": "text", "align": "right", "baseline": "alphabetic", "fontSize": 31.5, "fontWeight": "bold"},
          "encoding": {"text": {"field": "pre"}, "x": {"value": 283.5}, "y": {"value": 40}}
        },
        {
          "data": {"name": "heads"},
          "transform": [{"filter": "datum.pt == '100-600'"}],
          "mark": {"type": "text", "text": "p", "align": "right", "baseline": "alphabetic", "fontSize": 31.5, "fontWeight": "bold", "fontStyle": "italic"},
          "encoding": {"x": {"value": 314.8}, "y": {"value": 40}}
        },
        {
          "data": {"name": "heads"},
          "transform": [{"filter": "datum.pt == '100-600'"}],
          "mark": {"type": "text", "text": "4l", "align": "left", "baseline": "alphabetic", "fontSize": 19, "fontWeight": "bold"},
          "encoding": {"x": {"value": 316.8}, "y": {"value": 33}}
        },
        {
          "data": {"name": "heads"},
          "transform": [{"filter": "datum.pt == '100-600'"}],
          "mark": {"type": "text", "text": "T", "align": "left", "baseline": "alphabetic", "fontSize": 18, "fontWeight": "bold"},
          "encoding": {"x": {"value": 316.8}, "y": {"value": 58}}
        },
        {
          "data": {"values": [{"t": "[GeV]"}]},
          "mark": {"type": "text", "align": "right", "baseline": "alphabetic", "fontSize": 35},
          "encoding": {"text": {"field": "t"}, "x": {"value": 508}, "y": {"value": 427}}
        },
        {
          "data": {"values": [{"t": "4l"}]},
          "mark": {"type": "text", "align": "left", "baseline": "alphabetic", "fontSize": 24},
          "encoding": {"text": {"field": "t"}, "x": {"value": 387}, "y": {"value": 433}}
        },
        {
          "data": {"values": [{"t": "m"}]},
          "mark": {"type": "text", "align": "right", "baseline": "alphabetic", "fontSize": 35, "fontStyle": "italic"},
          "encoding": {"text": {"field": "t"}, "x": {"value": 386}, "y": {"value": 427}}
        }
      ]
    }
  ]
}
